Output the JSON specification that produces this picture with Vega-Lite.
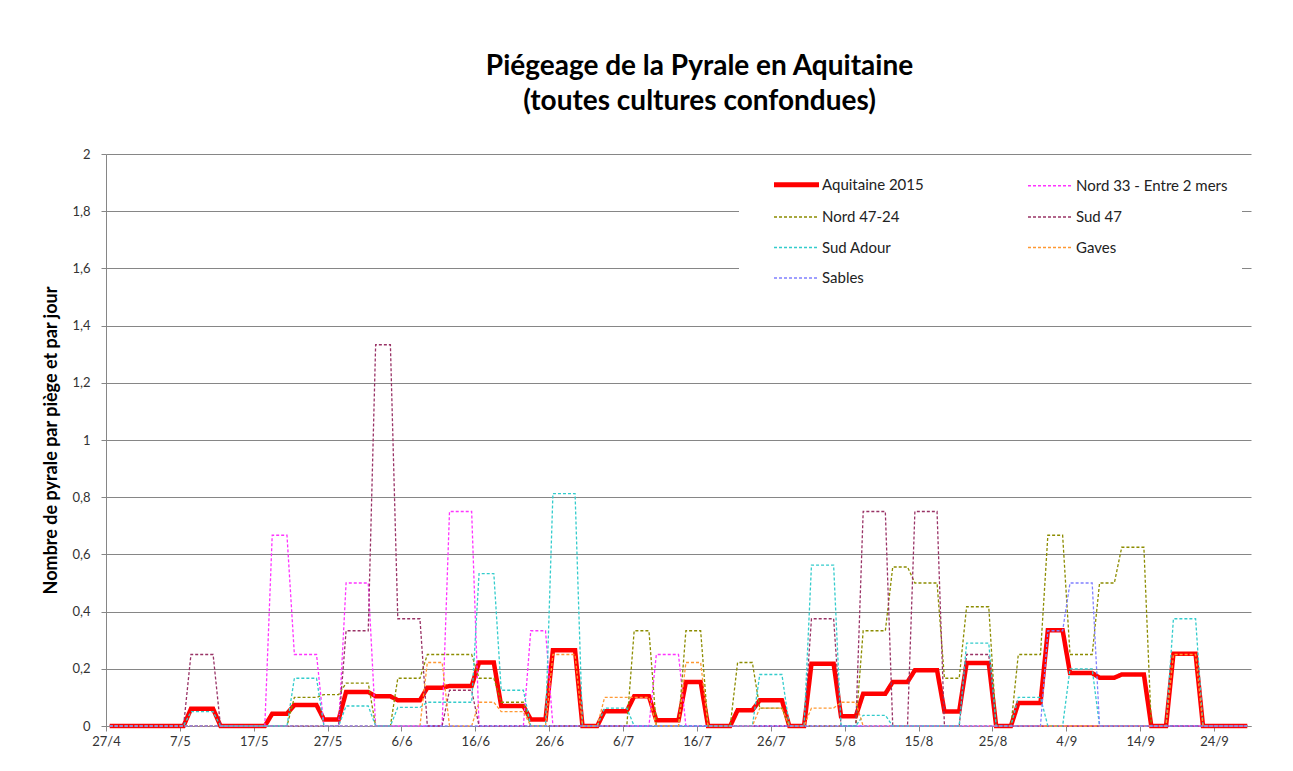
{
"$schema": "https://vega.github.io/schema/vega-lite/v6.json",
"width": 1145, "height": 572,
"autosize": {"type": "none"},
"padding": {"left": 106, "top": 154, "right": 42, "bottom": 45},
"background": "white",
"config": {"view": {"stroke": null}, "font": "Lato",
  "legend": {"orient": "none", "legendX": 633, "legendY": 9, "columns": 2, "direction": "horizontal", "fillColor": "white", "padding": 14, "symbolOffset": 36, "symbolType": "stroke", "symbolSize": 2025, "labelFontSize": 15, "labelColor": "#222222", "columnPadding": 83, "rowPadding": 14.5, "labelOffset": 18, "labelLimit": 300}},
"title": {"text": ["Piégeage de la Pyrale en Aquitaine", "(toutes cultures confondues)"], "fontSize": 28, "fontWeight": "bold", "font": "Lato", "lineHeight": 35, "anchor": "middle", "frame": "group", "dx": 21, "offset": 32, "color": "black"},
"data": {"values": [
{"serie":"Aquitaine 2015","date":"2015-04-27","v":0},
{"serie":"Aquitaine 2015","date":"2015-05-07","v":0},
{"serie":"Aquitaine 2015","date":"2015-05-08","v":0.06},
{"serie":"Aquitaine 2015","date":"2015-05-11","v":0.06},
{"serie":"Aquitaine 2015","date":"2015-05-12","v":0},
{"serie":"Aquitaine 2015","date":"2015-05-18","v":0},
{"serie":"Aquitaine 2015","date":"2015-05-19","v":0.043},
{"serie":"Aquitaine 2015","date":"2015-05-21","v":0.043},
{"serie":"Aquitaine 2015","date":"2015-05-22","v":0.073},
{"serie":"Aquitaine 2015","date":"2015-05-25","v":0.073},
{"serie":"Aquitaine 2015","date":"2015-05-26","v":0.023},
{"serie":"Aquitaine 2015","date":"2015-05-28","v":0.023},
{"serie":"Aquitaine 2015","date":"2015-05-29","v":0.119},
{"serie":"Aquitaine 2015","date":"2015-06-01","v":0.119},
{"serie":"Aquitaine 2015","date":"2015-06-02","v":0.104},
{"serie":"Aquitaine 2015","date":"2015-06-04","v":0.104},
{"serie":"Aquitaine 2015","date":"2015-06-05","v":0.09},
{"serie":"Aquitaine 2015","date":"2015-06-08","v":0.09},
{"serie":"Aquitaine 2015","date":"2015-06-09","v":0.134},
{"serie":"Aquitaine 2015","date":"2015-06-11","v":0.134},
{"serie":"Aquitaine 2015","date":"2015-06-12","v":0.14},
{"serie":"Aquitaine 2015","date":"2015-06-15","v":0.14},
{"serie":"Aquitaine 2015","date":"2015-06-16","v":0.222},
{"serie":"Aquitaine 2015","date":"2015-06-18","v":0.222},
{"serie":"Aquitaine 2015","date":"2015-06-19","v":0.07},
{"serie":"Aquitaine 2015","date":"2015-06-22","v":0.07},
{"serie":"Aquitaine 2015","date":"2015-06-23","v":0.023},
{"serie":"Aquitaine 2015","date":"2015-06-25","v":0.023},
{"serie":"Aquitaine 2015","date":"2015-06-26","v":0.265},
{"serie":"Aquitaine 2015","date":"2015-06-29","v":0.265},
{"serie":"Aquitaine 2015","date":"2015-06-30","v":0},
{"serie":"Aquitaine 2015","date":"2015-07-02","v":0},
{"serie":"Aquitaine 2015","date":"2015-07-03","v":0.052},
{"serie":"Aquitaine 2015","date":"2015-07-06","v":0.052},
{"serie":"Aquitaine 2015","date":"2015-07-07","v":0.104},
{"serie":"Aquitaine 2015","date":"2015-07-09","v":0.104},
{"serie":"Aquitaine 2015","date":"2015-07-10","v":0.02},
{"serie":"Aquitaine 2015","date":"2015-07-13","v":0.02},
{"serie":"Aquitaine 2015","date":"2015-07-14","v":0.154},
{"serie":"Aquitaine 2015","date":"2015-07-16","v":0.154},
{"serie":"Aquitaine 2015","date":"2015-07-17","v":0},
{"serie":"Aquitaine 2015","date":"2015-07-20","v":0},
{"serie":"Aquitaine 2015","date":"2015-07-21","v":0.055},
{"serie":"Aquitaine 2015","date":"2015-07-23","v":0.055},
{"serie":"Aquitaine 2015","date":"2015-07-24","v":0.09},
{"serie":"Aquitaine 2015","date":"2015-07-27","v":0.09},
{"serie":"Aquitaine 2015","date":"2015-07-28","v":0},
{"serie":"Aquitaine 2015","date":"2015-07-30","v":0},
{"serie":"Aquitaine 2015","date":"2015-07-31","v":0.218},
{"serie":"Aquitaine 2015","date":"2015-08-03","v":0.218},
{"serie":"Aquitaine 2015","date":"2015-08-04","v":0.034},
{"serie":"Aquitaine 2015","date":"2015-08-06","v":0.034},
{"serie":"Aquitaine 2015","date":"2015-08-07","v":0.113},
{"serie":"Aquitaine 2015","date":"2015-08-10","v":0.113},
{"serie":"Aquitaine 2015","date":"2015-08-11","v":0.154},
{"serie":"Aquitaine 2015","date":"2015-08-13","v":0.154},
{"serie":"Aquitaine 2015","date":"2015-08-14","v":0.195},
{"serie":"Aquitaine 2015","date":"2015-08-17","v":0.195},
{"serie":"Aquitaine 2015","date":"2015-08-18","v":0.051},
{"serie":"Aquitaine 2015","date":"2015-08-20","v":0.051},
{"serie":"Aquitaine 2015","date":"2015-08-21","v":0.22},
{"serie":"Aquitaine 2015","date":"2015-08-24","v":0.22},
{"serie":"Aquitaine 2015","date":"2015-08-25","v":0},
{"serie":"Aquitaine 2015","date":"2015-08-27","v":0},
{"serie":"Aquitaine 2015","date":"2015-08-28","v":0.08},
{"serie":"Aquitaine 2015","date":"2015-08-31","v":0.08},
{"serie":"Aquitaine 2015","date":"2015-09-01","v":0.335},
{"serie":"Aquitaine 2015","date":"2015-09-03","v":0.335},
{"serie":"Aquitaine 2015","date":"2015-09-04","v":0.185},
{"serie":"Aquitaine 2015","date":"2015-09-07","v":0.185},
{"serie":"Aquitaine 2015","date":"2015-09-08","v":0.169},
{"serie":"Aquitaine 2015","date":"2015-09-10","v":0.169},
{"serie":"Aquitaine 2015","date":"2015-09-11","v":0.18},
{"serie":"Aquitaine 2015","date":"2015-09-14","v":0.18},
{"serie":"Aquitaine 2015","date":"2015-09-15","v":0},
{"serie":"Aquitaine 2015","date":"2015-09-17","v":0},
{"serie":"Aquitaine 2015","date":"2015-09-18","v":0.253},
{"serie":"Aquitaine 2015","date":"2015-09-21","v":0.253},
{"serie":"Aquitaine 2015","date":"2015-09-22","v":0},
{"serie":"Aquitaine 2015","date":"2015-09-28","v":0},

{"serie":"Nord 33 - Entre 2 mers","date":"2015-04-27","v":0},
{"serie":"Nord 33 - Entre 2 mers","date":"2015-05-18","v":0},
{"serie":"Nord 33 - Entre 2 mers","date":"2015-05-19","v":0.667},
{"serie":"Nord 33 - Entre 2 mers","date":"2015-05-21","v":0.667},
{"serie":"Nord 33 - Entre 2 mers","date":"2015-05-22","v":0.25},
{"serie":"Nord 33 - Entre 2 mers","date":"2015-05-25","v":0.25},
{"serie":"Nord 33 - Entre 2 mers","date":"2015-05-26","v":0},
{"serie":"Nord 33 - Entre 2 mers","date":"2015-05-28","v":0},
{"serie":"Nord 33 - Entre 2 mers","date":"2015-05-29","v":0.5},
{"serie":"Nord 33 - Entre 2 mers","date":"2015-06-01","v":0.5},
{"serie":"Nord 33 - Entre 2 mers","date":"2015-06-02","v":0},
{"serie":"Nord 33 - Entre 2 mers","date":"2015-06-11","v":0},
{"serie":"Nord 33 - Entre 2 mers","date":"2015-06-12","v":0.75},
{"serie":"Nord 33 - Entre 2 mers","date":"2015-06-15","v":0.75},
{"serie":"Nord 33 - Entre 2 mers","date":"2015-06-16","v":0},
{"serie":"Nord 33 - Entre 2 mers","date":"2015-06-22","v":0},
{"serie":"Nord 33 - Entre 2 mers","date":"2015-06-23","v":0.333},
{"serie":"Nord 33 - Entre 2 mers","date":"2015-06-25","v":0.333},
{"serie":"Nord 33 - Entre 2 mers","date":"2015-06-26","v":0},
{"serie":"Nord 33 - Entre 2 mers","date":"2015-07-09","v":0},
{"serie":"Nord 33 - Entre 2 mers","date":"2015-07-10","v":0.25},
{"serie":"Nord 33 - Entre 2 mers","date":"2015-07-13","v":0.25},
{"serie":"Nord 33 - Entre 2 mers","date":"2015-07-14","v":0},
{"serie":"Nord 33 - Entre 2 mers","date":"2015-09-28","v":0},

{"serie":"Nord 47-24","date":"2015-04-27","v":0},
{"serie":"Nord 47-24","date":"2015-05-21","v":0},
{"serie":"Nord 47-24","date":"2015-05-22","v":0.1},
{"serie":"Nord 47-24","date":"2015-05-25","v":0.1},
{"serie":"Nord 47-24","date":"2015-05-26","v":0.11},
{"serie":"Nord 47-24","date":"2015-05-28","v":0.11},
{"serie":"Nord 47-24","date":"2015-05-29","v":0.15},
{"serie":"Nord 47-24","date":"2015-06-01","v":0.15},
{"serie":"Nord 47-24","date":"2015-06-02","v":0},
{"serie":"Nord 47-24","date":"2015-06-04","v":0},
{"serie":"Nord 47-24","date":"2015-06-05","v":0.167},
{"serie":"Nord 47-24","date":"2015-06-08","v":0.167},
{"serie":"Nord 47-24","date":"2015-06-09","v":0.25},
{"serie":"Nord 47-24","date":"2015-06-15","v":0.25},
{"serie":"Nord 47-24","date":"2015-06-16","v":0.167},
{"serie":"Nord 47-24","date":"2015-06-18","v":0.167},
{"serie":"Nord 47-24","date":"2015-06-19","v":0.083},
{"serie":"Nord 47-24","date":"2015-06-22","v":0.083},
{"serie":"Nord 47-24","date":"2015-06-23","v":0},
{"serie":"Nord 47-24","date":"2015-07-06","v":0},
{"serie":"Nord 47-24","date":"2015-07-07","v":0.333},
{"serie":"Nord 47-24","date":"2015-07-09","v":0.333},
{"serie":"Nord 47-24","date":"2015-07-10","v":0},
{"serie":"Nord 47-24","date":"2015-07-13","v":0},
{"serie":"Nord 47-24","date":"2015-07-14","v":0.333},
{"serie":"Nord 47-24","date":"2015-07-16","v":0.333},
{"serie":"Nord 47-24","date":"2015-07-17","v":0},
{"serie":"Nord 47-24","date":"2015-07-20","v":0},
{"serie":"Nord 47-24","date":"2015-07-21","v":0.222},
{"serie":"Nord 47-24","date":"2015-07-23","v":0.222},
{"serie":"Nord 47-24","date":"2015-07-24","v":0.0625},
{"serie":"Nord 47-24","date":"2015-07-27","v":0.0625},
{"serie":"Nord 47-24","date":"2015-07-28","v":0},
{"serie":"Nord 47-24","date":"2015-08-06","v":0},
{"serie":"Nord 47-24","date":"2015-08-07","v":0.333},
{"serie":"Nord 47-24","date":"2015-08-10","v":0.333},
{"serie":"Nord 47-24","date":"2015-08-11","v":0.556},
{"serie":"Nord 47-24","date":"2015-08-13","v":0.556},
{"serie":"Nord 47-24","date":"2015-08-14","v":0.5},
{"serie":"Nord 47-24","date":"2015-08-17","v":0.5},
{"serie":"Nord 47-24","date":"2015-08-18","v":0.167},
{"serie":"Nord 47-24","date":"2015-08-20","v":0.167},
{"serie":"Nord 47-24","date":"2015-08-21","v":0.417},
{"serie":"Nord 47-24","date":"2015-08-24","v":0.417},
{"serie":"Nord 47-24","date":"2015-08-25","v":0},
{"serie":"Nord 47-24","date":"2015-08-27","v":0},
{"serie":"Nord 47-24","date":"2015-08-28","v":0.25},
{"serie":"Nord 47-24","date":"2015-08-31","v":0.25},
{"serie":"Nord 47-24","date":"2015-09-01","v":0.667},
{"serie":"Nord 47-24","date":"2015-09-03","v":0.667},
{"serie":"Nord 47-24","date":"2015-09-04","v":0.25},
{"serie":"Nord 47-24","date":"2015-09-07","v":0.25},
{"serie":"Nord 47-24","date":"2015-09-08","v":0.5},
{"serie":"Nord 47-24","date":"2015-09-10","v":0.5},
{"serie":"Nord 47-24","date":"2015-09-11","v":0.625},
{"serie":"Nord 47-24","date":"2015-09-14","v":0.625},
{"serie":"Nord 47-24","date":"2015-09-15","v":0},
{"serie":"Nord 47-24","date":"2015-09-28","v":0},

{"serie":"Sud 47","date":"2015-04-27","v":0},
{"serie":"Sud 47","date":"2015-05-07","v":0},
{"serie":"Sud 47","date":"2015-05-08","v":0.25},
{"serie":"Sud 47","date":"2015-05-11","v":0.25},
{"serie":"Sud 47","date":"2015-05-12","v":0},
{"serie":"Sud 47","date":"2015-05-28","v":0},
{"serie":"Sud 47","date":"2015-05-29","v":0.333},
{"serie":"Sud 47","date":"2015-06-01","v":0.333},
{"serie":"Sud 47","date":"2015-06-02","v":1.333},
{"serie":"Sud 47","date":"2015-06-04","v":1.333},
{"serie":"Sud 47","date":"2015-06-05","v":0.375},
{"serie":"Sud 47","date":"2015-06-08","v":0.375},
{"serie":"Sud 47","date":"2015-06-09","v":0},
{"serie":"Sud 47","date":"2015-06-11","v":0},
{"serie":"Sud 47","date":"2015-06-12","v":0.125},
{"serie":"Sud 47","date":"2015-06-15","v":0.125},
{"serie":"Sud 47","date":"2015-06-16","v":0},
{"serie":"Sud 47","date":"2015-07-30","v":0},
{"serie":"Sud 47","date":"2015-07-31","v":0.375},
{"serie":"Sud 47","date":"2015-08-03","v":0.375},
{"serie":"Sud 47","date":"2015-08-04","v":0},
{"serie":"Sud 47","date":"2015-08-06","v":0},
{"serie":"Sud 47","date":"2015-08-07","v":0.75},
{"serie":"Sud 47","date":"2015-08-10","v":0.75},
{"serie":"Sud 47","date":"2015-08-11","v":0},
{"serie":"Sud 47","date":"2015-08-13","v":0},
{"serie":"Sud 47","date":"2015-08-14","v":0.75},
{"serie":"Sud 47","date":"2015-08-17","v":0.75},
{"serie":"Sud 47","date":"2015-08-18","v":0},
{"serie":"Sud 47","date":"2015-08-20","v":0},
{"serie":"Sud 47","date":"2015-08-21","v":0.25},
{"serie":"Sud 47","date":"2015-08-24","v":0.25},
{"serie":"Sud 47","date":"2015-08-25","v":0},
{"serie":"Sud 47","date":"2015-09-28","v":0},

{"serie":"Sud Adour","date":"2015-04-27","v":0},
{"serie":"Sud Adour","date":"2015-05-07","v":0},
{"serie":"Sud Adour","date":"2015-05-08","v":0.05},
{"serie":"Sud Adour","date":"2015-05-11","v":0.05},
{"serie":"Sud Adour","date":"2015-05-12","v":0},
{"serie":"Sud Adour","date":"2015-05-21","v":0},
{"serie":"Sud Adour","date":"2015-05-22","v":0.167},
{"serie":"Sud Adour","date":"2015-05-25","v":0.167},
{"serie":"Sud Adour","date":"2015-05-26","v":0},
{"serie":"Sud Adour","date":"2015-05-28","v":0},
{"serie":"Sud Adour","date":"2015-05-29","v":0.07},
{"serie":"Sud Adour","date":"2015-06-01","v":0.07},
{"serie":"Sud Adour","date":"2015-06-02","v":0},
{"serie":"Sud Adour","date":"2015-06-04","v":0},
{"serie":"Sud Adour","date":"2015-06-05","v":0.065},
{"serie":"Sud Adour","date":"2015-06-08","v":0.065},
{"serie":"Sud Adour","date":"2015-06-09","v":0.083},
{"serie":"Sud Adour","date":"2015-06-15","v":0.083},
{"serie":"Sud Adour","date":"2015-06-16","v":0.533},
{"serie":"Sud Adour","date":"2015-06-18","v":0.533},
{"serie":"Sud Adour","date":"2015-06-19","v":0.125},
{"serie":"Sud Adour","date":"2015-06-22","v":0.125},
{"serie":"Sud Adour","date":"2015-06-23","v":0},
{"serie":"Sud Adour","date":"2015-06-25","v":0},
{"serie":"Sud Adour","date":"2015-06-26","v":0.8125},
{"serie":"Sud Adour","date":"2015-06-29","v":0.8125},
{"serie":"Sud Adour","date":"2015-06-30","v":0},
{"serie":"Sud Adour","date":"2015-07-02","v":0},
{"serie":"Sud Adour","date":"2015-07-03","v":0.0625},
{"serie":"Sud Adour","date":"2015-07-06","v":0.0625},
{"serie":"Sud Adour","date":"2015-07-07","v":0},
{"serie":"Sud Adour","date":"2015-07-23","v":0},
{"serie":"Sud Adour","date":"2015-07-24","v":0.18},
{"serie":"Sud Adour","date":"2015-07-27","v":0.18},
{"serie":"Sud Adour","date":"2015-07-28","v":0},
{"serie":"Sud Adour","date":"2015-07-30","v":0},
{"serie":"Sud Adour","date":"2015-07-31","v":0.5625},
{"serie":"Sud Adour","date":"2015-08-03","v":0.5625},
{"serie":"Sud Adour","date":"2015-08-04","v":0},
{"serie":"Sud Adour","date":"2015-08-06","v":0},
{"serie":"Sud Adour","date":"2015-08-07","v":0.0375},
{"serie":"Sud Adour","date":"2015-08-10","v":0.0375},
{"serie":"Sud Adour","date":"2015-08-11","v":0},
{"serie":"Sud Adour","date":"2015-08-20","v":0},
{"serie":"Sud Adour","date":"2015-08-21","v":0.29},
{"serie":"Sud Adour","date":"2015-08-24","v":0.29},
{"serie":"Sud Adour","date":"2015-08-25","v":0},
{"serie":"Sud Adour","date":"2015-08-27","v":0},
{"serie":"Sud Adour","date":"2015-08-28","v":0.1},
{"serie":"Sud Adour","date":"2015-08-31","v":0.1},
{"serie":"Sud Adour","date":"2015-09-01","v":0},
{"serie":"Sud Adour","date":"2015-09-03","v":0},
{"serie":"Sud Adour","date":"2015-09-04","v":0.2},
{"serie":"Sud Adour","date":"2015-09-07","v":0.2},
{"serie":"Sud Adour","date":"2015-09-08","v":0},
{"serie":"Sud Adour","date":"2015-09-17","v":0},
{"serie":"Sud Adour","date":"2015-09-18","v":0.375},
{"serie":"Sud Adour","date":"2015-09-21","v":0.375},
{"serie":"Sud Adour","date":"2015-09-22","v":0},
{"serie":"Sud Adour","date":"2015-09-28","v":0},

{"serie":"Gaves","date":"2015-04-27","v":0},
{"serie":"Gaves","date":"2015-06-08","v":0},
{"serie":"Gaves","date":"2015-06-09","v":0.222},
{"serie":"Gaves","date":"2015-06-11","v":0.222},
{"serie":"Gaves","date":"2015-06-12","v":0},
{"serie":"Gaves","date":"2015-06-15","v":0},
{"serie":"Gaves","date":"2015-06-16","v":0.083},
{"serie":"Gaves","date":"2015-06-18","v":0.083},
{"serie":"Gaves","date":"2015-06-19","v":0.05},
{"serie":"Gaves","date":"2015-06-22","v":0.05},
{"serie":"Gaves","date":"2015-06-23","v":0},
{"serie":"Gaves","date":"2015-06-25","v":0},
{"serie":"Gaves","date":"2015-06-26","v":0.25},
{"serie":"Gaves","date":"2015-06-29","v":0.25},
{"serie":"Gaves","date":"2015-06-30","v":0},
{"serie":"Gaves","date":"2015-07-02","v":0},
{"serie":"Gaves","date":"2015-07-03","v":0.1},
{"serie":"Gaves","date":"2015-07-09","v":0.1},
{"serie":"Gaves","date":"2015-07-10","v":0},
{"serie":"Gaves","date":"2015-07-13","v":0},
{"serie":"Gaves","date":"2015-07-14","v":0.222},
{"serie":"Gaves","date":"2015-07-16","v":0.222},
{"serie":"Gaves","date":"2015-07-17","v":0},
{"serie":"Gaves","date":"2015-07-23","v":0},
{"serie":"Gaves","date":"2015-07-24","v":0.0625},
{"serie":"Gaves","date":"2015-07-27","v":0.0625},
{"serie":"Gaves","date":"2015-07-28","v":0},
{"serie":"Gaves","date":"2015-07-30","v":0},
{"serie":"Gaves","date":"2015-07-31","v":0.0625},
{"serie":"Gaves","date":"2015-08-03","v":0.0625},
{"serie":"Gaves","date":"2015-08-04","v":0.083},
{"serie":"Gaves","date":"2015-08-06","v":0.083},
{"serie":"Gaves","date":"2015-08-07","v":0},
{"serie":"Gaves","date":"2015-09-17","v":0},
{"serie":"Gaves","date":"2015-09-18","v":0.25},
{"serie":"Gaves","date":"2015-09-21","v":0.25},
{"serie":"Gaves","date":"2015-09-22","v":0},
{"serie":"Gaves","date":"2015-09-28","v":0},

{"serie":"Sables","date":"2015-04-27","v":0},
{"serie":"Sables","date":"2015-08-31","v":0},
{"serie":"Sables","date":"2015-09-01","v":0.333},
{"serie":"Sables","date":"2015-09-03","v":0.333},
{"serie":"Sables","date":"2015-09-04","v":0.5},
{"serie":"Sables","date":"2015-09-07","v":0.5},
{"serie":"Sables","date":"2015-09-08","v":0},
{"serie":"Sables","date":"2015-09-28","v":0}
]},
"mark": {"type": "line", "interpolate": "linear"},
"encoding": {
  "x": {"field": "date", "type": "temporal", "timeUnit": "utcyearmonthdate", "bandPosition": 0.5,
    "scale": {"type": "utc", "domain": [{"year": 2015, "month": 4, "date": 27, "utc": true}, {"year": 2015, "month": 9, "date": 29, "utc": true}]},
    "axis": {"title": null, "grid": false, "format": "%-d/%-m", "labelFontSize": 13, "labelColor": "#333333", "labelPadding": 4, "domainColor": "#868686", "tickColor": "#868686", "tickSize": 5, "labelFlush": false, "labelOverlap": false,
      "values": [
        {"year": 2015, "month": 4, "date": 27, "utc": true},
        {"year": 2015, "month": 5, "date": 7, "utc": true},
        {"year": 2015, "month": 5, "date": 17, "utc": true},
        {"year": 2015, "month": 5, "date": 27, "utc": true},
        {"year": 2015, "month": 6, "date": 6, "utc": true},
        {"year": 2015, "month": 6, "date": 16, "utc": true},
        {"year": 2015, "month": 6, "date": 26, "utc": true},
        {"year": 2015, "month": 7, "date": 6, "utc": true},
        {"year": 2015, "month": 7, "date": 16, "utc": true},
        {"year": 2015, "month": 7, "date": 26, "utc": true},
        {"year": 2015, "month": 8, "date": 5, "utc": true},
        {"year": 2015, "month": 8, "date": 15, "utc": true},
        {"year": 2015, "month": 8, "date": 25, "utc": true},
        {"year": 2015, "month": 9, "date": 4, "utc": true},
        {"year": 2015, "month": 9, "date": 14, "utc": true},
        {"year": 2015, "month": 9, "date": 24, "utc": true}
      ]}},
  "y": {"field": "v", "type": "quantitative", "scale": {"domain": [0, 2], "nice": false},
    "axis": {"title": "Nombre de pyrale par piège et par jour", "titleFontSize": 18, "titleFontWeight": "bold", "titleColor": "black", "titlePadding": 11,
      "values": [0, 0.2, 0.4, 0.6, 0.8, 1, 1.2, 1.4, 1.6, 1.8, 2],
      "labelExpr": "replace(format(datum.value, '.1~f'), '.', ',')",
      "labelFontSize": 13, "labelColor": "#333333", "labelPadding": 11,
      "grid": true, "gridColor": "#868686", "gridWidth": 1, "domainColor": "#868686", "tickColor": "#868686", "tickSize": 5}},
  "color": {"field": "serie", "type": "nominal",
    "scale": {"domain": ["Aquitaine 2015", "Nord 33 - Entre 2 mers", "Nord 47-24", "Sud 47", "Sud Adour", "Gaves", "Sables"],
      "range": ["#FF0000", "#FF33FF", "#8C8C00", "#993366", "#33CCCC", "#FF9933", "#8080FF"]},
    "legend": {"title": null, "encode": {"symbols": {"update": {"strokeWidth": {"signal": "datum.value === 'Aquitaine 2015' ? 5 : 1.3"}}}}}},
  "strokeDash": {"field": "serie", "type": "nominal",
    "scale": {"domain": ["Aquitaine 2015", "Nord 33 - Entre 2 mers", "Nord 47-24", "Sud 47", "Sud Adour", "Gaves", "Sables"],
      "range": [[1, 0], [3, 2], [3, 2], [3, 2], [3, 2], [3, 2], [3, 2]]},
    "legend": {"title": null}},
  "strokeWidth": {"condition": {"test": "datum.serie === 'Aquitaine 2015'", "value": 4.5}, "value": 1.3}
}
}
